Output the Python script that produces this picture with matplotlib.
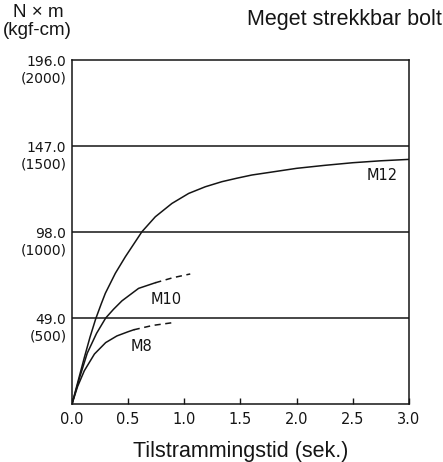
import matplotlib
matplotlib.use("Agg")
import matplotlib.pyplot as plt
import matplotlib.transforms as mtransforms

plt.rcParams['font.family'] = ['Liberation Sans', 'DejaVu Sans']

# M12 curve (solid all the way)
m12_t = [0, 0.11, 0.16, 0.211, 0.26, 0.297, 0.386, 0.475, 0.623, 0.742, 0.89,
         1.039, 1.187, 1.335, 1.47, 1.602, 1.76, 2.0, 2.25, 2.5, 2.75, 3.0]
m12_nm = [0, 26.5, 38, 48.5, 57, 63.1, 74.5, 83.9, 98.2, 106.7, 114.3,
          120, 123.8, 126.7, 128.7, 130.5, 132, 134.3, 136, 137.5, 138.6, 139.4]

# M10: solid part, then dashed extension
m10_t = [0, 0.07, 0.136, 0.219, 0.3, 0.37, 0.445, 0.593, 0.742]
m10_nm = [0, 15.5, 29, 40.3, 49, 54, 58.8, 65.9, 69.1]
m10_dash_t = [0.742, 0.9, 1.053]
m10_dash_nm = [69.1, 72, 74.1]

# M8: solid part, then dashed extension
m8_t = [0, 0.05, 0.11, 0.2, 0.3, 0.4, 0.5, 0.55]
m8_nm = [0, 10, 19, 28.5, 35, 38.8, 41.2, 42.3]
m8_dash_t = [0.55, 0.72, 0.89]
m8_dash_nm = [42.3, 44.8, 46.3]

x_ticks = [0.0, 0.5, 1.0, 1.5, 2.0, 2.5, 3.0]
y_ticks = [49.0, 98.0, 147.0, 196.0]
y_tick_labels = ['49.0\n(500)', '98.0\n(1000)', '147.0\n(1500)', '196.0\n(2000)']

ink = '#151515'
num_font = ['DejaVu Sans']

fig = plt.figure(figsize=(4.43, 4.62), dpi=100)
ax = fig.add_axes([0.1625, 0.1255, 0.7605, 0.7445])

# horizontal reference lines
for yv in y_ticks[:-1]:
    ax.axhline(yv, color=ink, lw=1.1, zorder=1)

ax.plot(m12_t, m12_nm, color=ink, lw=1.1, solid_joinstyle='round')
ax.plot(m10_t, m10_nm, color=ink, lw=1.1, solid_joinstyle='round')
ax.plot(m10_dash_t, m10_dash_nm, color=ink, lw=1.1, ls=(0, (4, 3)))
ax.plot(m8_t, m8_nm, color=ink, lw=1.1, solid_joinstyle='round')
ax.plot(m8_dash_t, m8_dash_nm, color=ink, lw=1.1, ls=(0, (4, 3)))

ax.text(2.76, 130.5, 'M12', fontsize=10.5, color=ink, ha='center', va='center', family=num_font)
ax.text(0.84, 59.8, 'M10', fontsize=10.5, color=ink, ha='center', va='center', family=num_font)
ax.text(0.615, 33, 'M8', fontsize=10.5, color=ink, ha='center', va='center', family=num_font)

ax.set_xlim(0, 3.0)
ax.set_ylim(0, 196.0)
ax.set_xticks(x_ticks)
ax.set_xticklabels(['%.1f' % v for v in x_ticks], fontsize=10.5, color=ink, family=num_font)
ax.set_yticks(y_ticks)
ax.set_yticklabels(y_tick_labels, fontsize=10, color=ink, family=num_font, linespacing=1.25)
ax.tick_params(axis='x', direction='in', length=4, width=1.0, color=ink, pad=6)
ax.tick_params(axis='y', length=0, pad=4)

# first line of each y label sits on its grid line
shift = mtransforms.ScaledTranslation(0, -0.07, fig.dpi_scale_trans)
for lab in ax.get_yticklabels():
    lab.set_transform(lab.get_transform() + shift)

for s in ax.spines.values():
    s.set_color(ink)
    s.set_linewidth(1.1)

ax.set_xlabel('Tilstrammingstid (sek.)', fontsize=15.5, color=ink, labelpad=10)

fig.text(0.086, 0.972, 'N \u00d7 m', fontsize=13.5, color=ink, ha='center', va='center')
fig.text(0.084, 0.933, '(kgf-cm)', fontsize=13.5, color=ink, ha='center', va='center')
fig.text(0.997, 0.957, 'Meget strekkbar bolt', fontsize=15.5, color=ink, ha='right', va='center')

fig.savefig('out.png', dpi=100)
